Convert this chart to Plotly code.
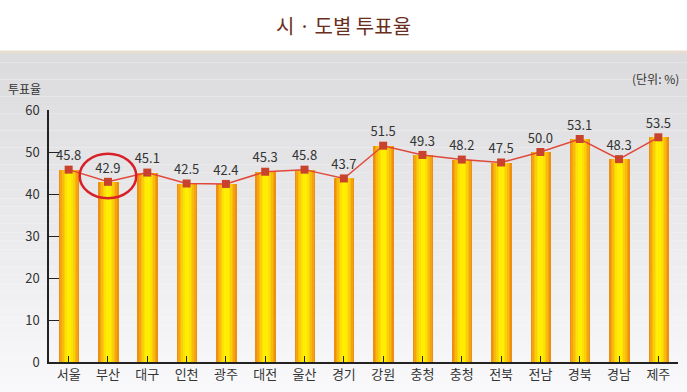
import plotly.graph_objects as go

regions = ["서울", "부산", "대구", "인천", "광주", "대전", "울산", "경기",
           "강원", "충청", "충청", "전북", "전남", "경북", "경남", "제주"]
turnout = [45.8, 42.9, 45.1, 42.5, 42.4, 45.3, 45.8, 43.7,
           51.5, 49.3, 48.2, 47.5, 50.0, 53.1, 48.3, 53.5]
labels = [f"{v:.1f}" for v in turnout]
y_ticks = [0, 10, 20, 30, 40, 50, 60]

xs = list(range(len(regions)))

fig = go.Figure()

# gradient bars via layered overlay bars
layers = [
    (0.52, "#EF8F10"),
    (0.44, "#F3A410"),
    (0.36, "#F8BA0C"),
    (0.28, "#FBCF08"),
    (0.20, "#FDE105"),
    (0.12, "#FFEE03"),
]
for w, c in layers:
    fig.add_trace(go.Bar(
        x=xs, y=turnout, width=w, marker=dict(color=c, line=dict(width=0)),
        hoverinfo="skip", showlegend=False, offset=-w / 2 + 0.01,
    ))

fig.add_trace(go.Scatter(
    x=xs, y=turnout, mode="lines+markers+text",
    line=dict(color="#E0483A", width=1.5),
    marker=dict(symbol="square", size=8, color="#C8422E"),
    text=labels, textposition="top center",
    textfont=dict(family="Noto Sans CJK KR, DejaVu Sans", size=13, color="#333333"),
    showlegend=False,
))

# background gradient bands (paper coords)
shapes = []
top, bottom = 1.222, -0.125
n = 40
for i in range(n):
    y1 = top - (top - bottom) * i / n
    y0 = top - (top - bottom) * (i + 1) / n
    t = i / (n - 1)
    g = int(220 + (249 - 220) * t)
    shapes.append(dict(type="rect", xref="paper", yref="paper",
                       x0=-0.1, x1=1.1, y0=y0, y1=y1, layer="below",
                       fillcolor=f"rgb({g},{g},{min(g+2,255)})", line=dict(width=0)))
# beige separator
shapes.append(dict(type="rect", xref="paper", yref="paper", x0=-0.1, x1=1.1,
                   y0=1.222, y1=1.236, layer="below",
                   fillcolor="#E6DDD2", line=dict(width=0)))
# red circle around 부산
shapes.append(dict(type="circle", xref="x", yref="y",
                   x0=1 - 0.72, x1=1 + 0.72, y0=39.0, y1=49.6,
                   line=dict(color="#D8202A", width=2.5), layer="above"))

fig.update_layout(
    width=687, height=392,
    margin=dict(l=49, r=9, t=110, b=30),
    paper_bgcolor="#FFFFFF",
    plot_bgcolor="rgba(0,0,0,0)",
    barmode="overlay",
    bargap=0,
    shapes=shapes,
    font=dict(family="Noto Sans CJK KR, DejaVu Sans", size=13, color="#333333"),
    xaxis=dict(
        range=[-0.5, 15.5], tickmode="array", tickvals=xs, ticktext=regions,
        showline=True, linecolor="#222222", linewidth=1.5,
        ticks="inside", ticklen=6, tickcolor="#222222", tickson="boundaries",
        showgrid=False, zeroline=False, fixedrange=True,
        tickfont=dict(size=13, color="#333333"),
    ),
    yaxis=dict(
        range=[0, 60], tickmode="array", tickvals=y_ticks,
        showline=True, linecolor="#222222", linewidth=1.5,
        ticks="inside", ticklen=10, tickcolor="#222222",
        showgrid=False, zeroline=False, ticklabelstandoff=5,
        tickfont=dict(size=13, color="#333333"),
    ),
    annotations=[
        dict(text="시 · 도별 투표율", xref="paper", yref="paper",
             x=(343 - 49) / 629, y=(362 - 25) / 252, xanchor="center", yanchor="middle",
             showarrow=False, font=dict(size=20, color="#6A2E1E",
                                        family="Noto Sans CJK KR, DejaVu Sans")),
        dict(text="투표율", xref="paper", yref="paper",
             x=(6 - 49) / 629, y=(362 - 88) / 252, xanchor="left", yanchor="middle",
             showarrow=False, font=dict(size=12, color="#333333")),
        dict(text="(단위: %)", xref="paper", yref="paper",
             x=(681 - 49) / 629, y=(362 - 78) / 252, xanchor="right", yanchor="middle",
             showarrow=False, font=dict(size=12, color="#333333")),
    ],
)

fig.write_html("out.html", config={"displayModeBar": False},
               post_script="document.body.style.margin='0';")
